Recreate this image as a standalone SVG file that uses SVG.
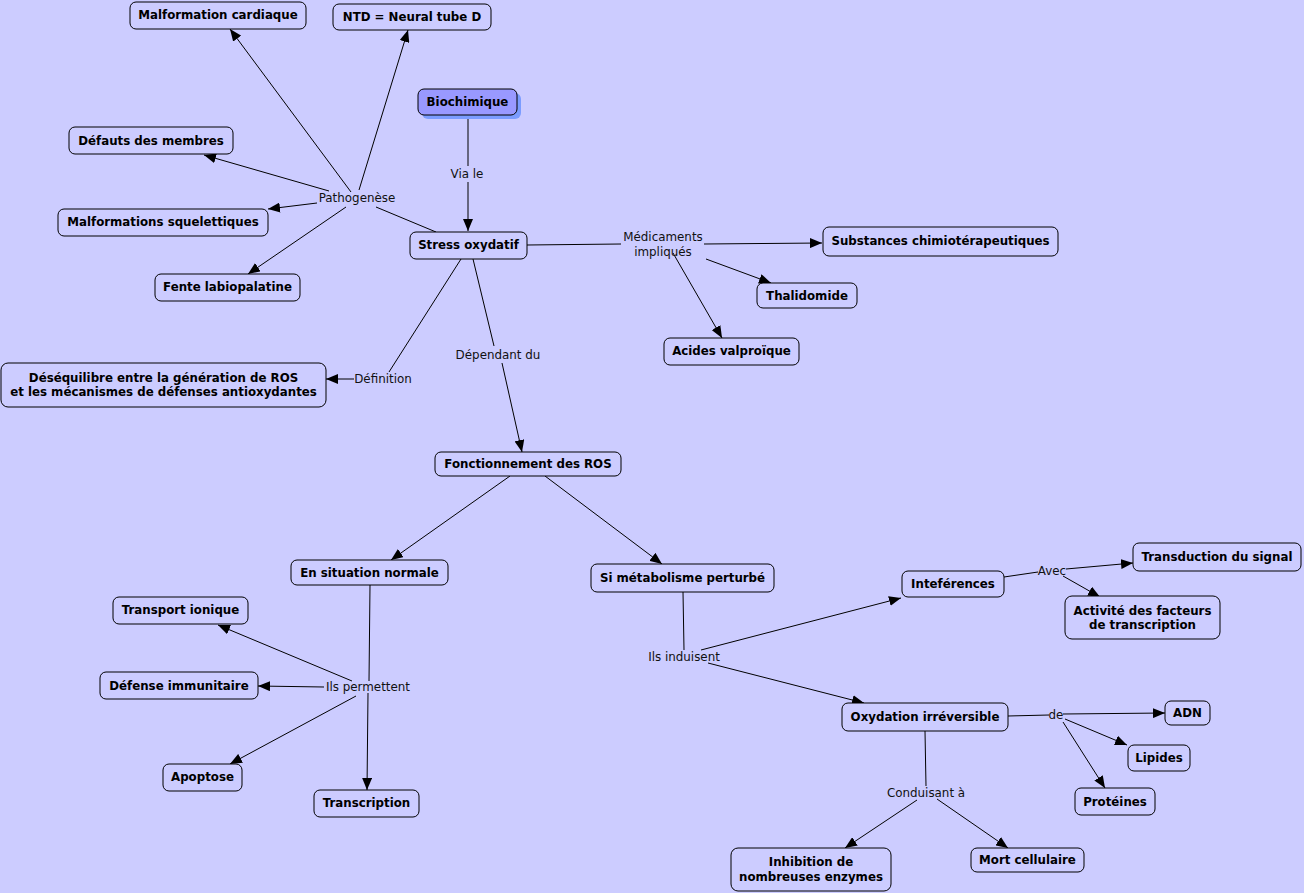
<svg xmlns="http://www.w3.org/2000/svg" width="1304" height="893" viewBox="0 0 1304 893">
<style>
.n rect{fill:#ccccff;stroke:#000;stroke-width:1}
.n text{font-family:"DejaVu Sans",Verdana,sans-serif;font-weight:bold;font-size:11.8px;fill:#000;text-anchor:middle;dominant-baseline:central}
.l{font-family:"DejaVu Sans",Verdana,sans-serif;font-size:11.9px;fill:#111;text-anchor:middle;dominant-baseline:central}
.c line{stroke:#000;stroke-width:1}
.a{marker-end:url(#ah)}
</style>
<defs>
<marker id="ah" viewBox="0 0 12 10" refX="12" refY="5" markerWidth="12" markerHeight="10" markerUnits="userSpaceOnUse" orient="auto">
<path d="M0,0 L12,5 L0,10 z" fill="#000"/>
</marker>
</defs>
<rect width="1304" height="893" fill="#ccccff"/>
<g class="c" id="connectors">
<line x1="468" y1="115" x2="468" y2="166"/>
<line class="a" x1="468" y1="182" x2="468" y2="231"/>
<line x1="436" y1="232" x2="376" y2="207"/>
<line class="a" x1="351" y1="192" x2="230" y2="29"/>
<line class="a" x1="359" y1="190" x2="408" y2="30"/>
<line class="a" x1="329" y1="191" x2="204" y2="155"/>
<line class="a" x1="317" y1="203" x2="268" y2="209"/>
<line class="a" x1="346" y1="207" x2="248" y2="274"/>
<line x1="527" y1="245" x2="621" y2="244"/>
<line class="a" x1="704" y1="244" x2="822" y2="243"/>
<line class="a" x1="706" y1="259" x2="771" y2="283"/>
<line class="a" x1="673" y1="253" x2="722" y2="338"/>
<line x1="461" y1="259" x2="389" y2="372"/>
<line class="a" x1="354" y1="379" x2="326" y2="379"/>
<line x1="473" y1="259" x2="494" y2="346"/>
<line class="a" x1="502" y1="363" x2="522" y2="452"/>
<line class="a" x1="510" y1="476" x2="391" y2="560"/>
<line class="a" x1="545" y1="476" x2="662" y2="564"/>
<line x1="370" y1="585" x2="369" y2="681"/>
<line class="a" x1="368" y1="693" x2="367" y2="790"/>
<line class="a" x1="352" y1="681" x2="218" y2="625"/>
<line class="a" x1="324" y1="687" x2="258" y2="686"/>
<line class="a" x1="356" y1="696" x2="230" y2="764"/>
<line x1="683" y1="592" x2="684" y2="650"/>
<line class="a" x1="701" y1="650" x2="901" y2="598"/>
<line class="a" x1="708" y1="663" x2="864" y2="703"/>
<line x1="1004" y1="577" x2="1038" y2="572"/>
<line class="a" x1="1066" y1="569" x2="1133" y2="563"/>
<line class="a" x1="1063" y1="576" x2="1100" y2="597"/>
<line x1="1008" y1="716" x2="1049" y2="715"/>
<line class="a" x1="1063" y1="714" x2="1165" y2="713"/>
<line class="a" x1="1065" y1="719" x2="1127" y2="745"/>
<line class="a" x1="1063" y1="722" x2="1105" y2="788"/>
<line x1="925" y1="731" x2="926" y2="786"/>
<line class="a" x1="917" y1="800" x2="845" y2="848"/>
<line class="a" x1="937" y1="799" x2="1008" y2="848"/>
</g>
<g id="labels">
<text class="l" x="467" y="174">Via le</text>
<text class="l" x="357" y="198">Pathogenèse</text>
<text class="l" x="663" y="237">Médicaments</text>
<text class="l" x="663" y="252">impliqués</text>
<text class="l" x="498" y="355">Dépendant du</text>
<text class="l" x="383" y="379">Définition</text>
<text class="l" x="368" y="687">Ils permettent</text>
<text class="l" x="684" y="657">Ils induisent</text>
<text class="l" x="1052" y="571">Avec</text>
<text class="l" x="1056" y="715">de</text>
<text class="l" x="926" y="793">Conduisant à</text>
</g>
<g class="n" id="n1"><rect x="130" y="2" width="176" height="27" rx="6"/><text x="218" y="15">Malformation cardiaque</text></g>
<g class="n" id="n2"><rect x="333" y="4" width="158" height="26" rx="6"/><text x="412" y="16.5">NTD = Neural tube D</text></g>
<g class="n" id="n3"><rect x="422" y="93" width="99" height="26" rx="6" style="fill:#7b9cff;stroke:none"/><rect x="418" y="89" width="99" height="26" rx="6" style="fill:#9999ff"/><text x="467.5" y="101.5">Biochimique</text></g>
<g class="n" id="n4"><rect x="69" y="127" width="164" height="27" rx="6"/><text x="151" y="140.5">Défauts des membres</text></g>
<g class="n" id="n5"><rect x="58" y="209" width="210" height="27" rx="6"/><text x="163" y="222">Malformations squelettiques</text></g>
<g class="n" id="n6"><rect x="155" y="274" width="145" height="27" rx="6"/><text x="227.5" y="287">Fente labiopalatine</text></g>
<g class="n" id="n7"><rect x="410" y="232" width="117" height="27" rx="6"/><text x="468.5" y="245">Stress oxydatif</text></g>
<g class="n" id="n8"><rect x="823" y="227" width="235" height="29" rx="6"/><text x="940.5" y="241">Substances chimiotérapeutiques</text></g>
<g class="n" id="n9"><rect x="757" y="283" width="100" height="25" rx="6"/><text x="807" y="295.5">Thalidomide</text></g>
<g class="n" id="n10"><rect x="664" y="338" width="135" height="27" rx="6"/><text x="731.5" y="351">Acides valproïque</text></g>
<g class="n" id="n11"><rect x="1" y="363" width="325" height="44" rx="7"/><text x="163.5" y="378">Déséquilibre entre la génération de ROS</text><text x="163.5" y="392">et les mécanismes de défenses antioxydantes</text></g>
<g class="n" id="n12"><rect x="435" y="452" width="186" height="24" rx="6"/><text x="528" y="464">Fonctionnement des ROS</text></g>
<g class="n" id="n13"><rect x="291" y="560" width="157" height="25" rx="6"/><text x="369.5" y="572.5">En situation normale</text></g>
<g class="n" id="n14"><rect x="591" y="564" width="183" height="28" rx="6"/><text x="682.5" y="577.5">Si métabolisme perturbé</text></g>
<g class="n" id="n15"><rect x="113" y="597" width="135" height="27" rx="6"/><text x="180.5" y="610">Transport ionique</text></g>
<g class="n" id="n16"><rect x="100" y="672" width="158" height="27" rx="6"/><text x="179" y="685.5">Défense immunitaire</text></g>
<g class="n" id="n17"><rect x="163" y="764" width="79" height="27" rx="6"/><text x="202.5" y="777">Apoptose</text></g>
<g class="n" id="n18"><rect x="314" y="790" width="105" height="27" rx="6"/><text x="366.5" y="803">Transcription</text></g>
<g class="n" id="n19"><rect x="902" y="571" width="102" height="26" rx="6"/><text x="953" y="584">Inteférences</text></g>
<g class="n" id="n20"><rect x="1133" y="543" width="168" height="28" rx="6"/><text x="1217" y="556.5">Transduction du signal</text></g>
<g class="n" id="n21"><rect x="1065" y="596" width="155" height="43" rx="7"/><text x="1142.5" y="610.5">Activité des facteurs</text><text x="1142.5" y="625">de transcription</text></g>
<g class="n" id="n22"><rect x="842" y="703" width="166" height="28" rx="6"/><text x="925" y="716.5">Oxydation irréversible</text></g>
<g class="n" id="n23"><rect x="1165" y="701" width="45" height="24" rx="6"/><text x="1187.5" y="713">ADN</text></g>
<g class="n" id="n24"><rect x="1128" y="745" width="62" height="26" rx="6"/><text x="1159" y="757.5">Lipides</text></g>
<g class="n" id="n25"><rect x="1075" y="788" width="80" height="27" rx="6"/><text x="1115" y="801.5">Protéines</text></g>
<g class="n" id="n26"><rect x="731" y="848" width="160" height="43" rx="7"/><text x="811" y="862">Inhibition de</text><text x="811" y="877">nombreuses enzymes</text></g>
<g class="n" id="n27"><rect x="971" y="848" width="113" height="24" rx="6"/><text x="1027.5" y="860">Mort cellulaire</text></g>
</svg>
